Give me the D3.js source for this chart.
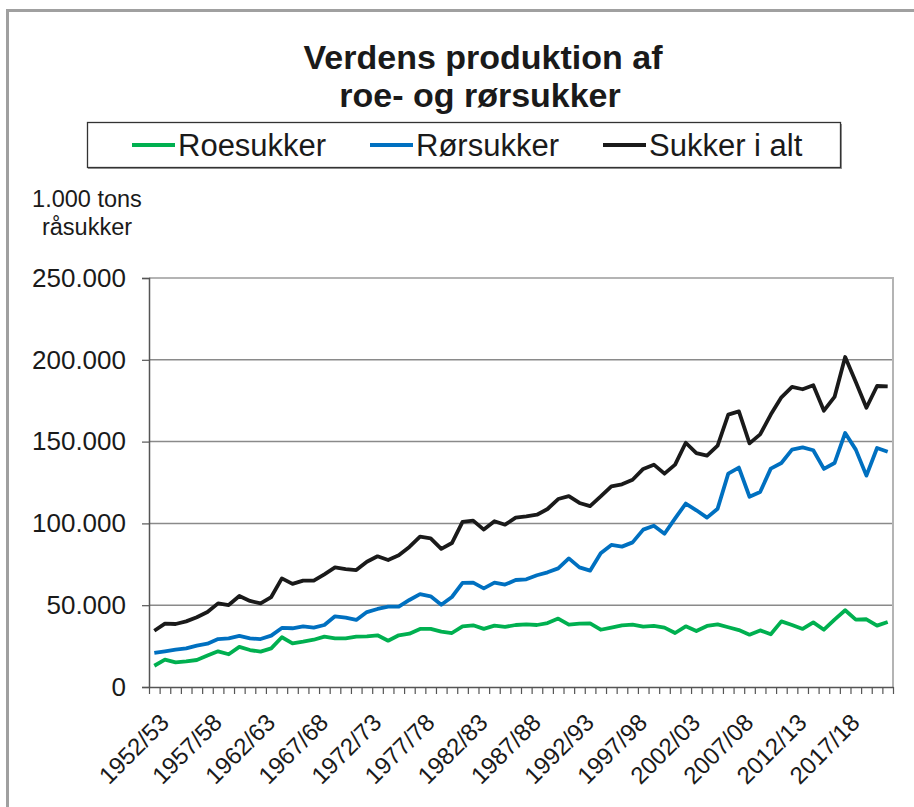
<!DOCTYPE html>
<html>
<head>
<meta charset="utf-8">
<script src="https://cdn.jsdelivr.net/npm/d3@7"></script>
<style>
  body { margin: 0; background: #fff; }
  svg { display: block; font-family: 'Liberation Sans', Arial, sans-serif; }
</style>
</head>
<body>
<div id="graf"></div>
<script>
// I. Data
aar = ['1952/53','1953/54','1954/55','1955/56','1956/57','1957/58','1958/59','1959/60','1960/61','1961/62',
       '1962/63','1963/64','1964/65','1965/66','1966/67','1967/68','1968/69','1969/70','1970/71','1971/72',
       '1972/73','1973/74','1974/75','1975/76','1976/77','1977/78','1978/79','1979/80','1980/81','1981/82',
       '1982/83','1983/84','1984/85','1985/86','1986/87','1987/88','1988/89','1989/90','1990/91','1991/92',
       '1992/93','1993/94','1994/95','1995/96','1996/97','1997/98','1998/99','1999/00','2000/01','2001/02',
       '2002/03','2003/04','2004/05','2005/06','2006/07','2007/08','2008/09','2009/10','2010/11','2011/12',
       '2012/13','2013/14','2014/15','2015/16','2016/17','2017/18','2018/19','2019/20','2020/21','2021/22']

roesukker = [13000,16700,15100,15700,16500,19200,21800,20000,24500,22600,
             21600,23600,30400,26700,27700,28900,30800,29700,29700,30800,
             31000,31600,28300,31600,32600,35500,35500,33800,33000,37100,
             37700,35500,37500,36700,37900,38300,37900,39100,41800,38100,
             38700,38900,35000,36300,37700,38100,36900,37300,36300,33000,
             37100,34200,37300,38300,36500,34800,32000,34600,32200,40100,
             37900,35500,39500,35000,41200,46900,41200,41400,37500,39700]

roersukker = [20800,21800,22800,23600,25300,26500,29300,29700,31200,29700,
              29300,31400,36100,35900,37100,36300,37900,43200,42400,41000,
              45800,47700,49100,49100,53200,56800,55400,50300,55000,63600,
              63800,60300,63800,62600,65400,65800,68300,70100,72500,78600,
              73100,71100,81700,86800,85800,88400,96200,98600,93700,103100,
              112100,108000,103500,109000,130400,134100,116300,119200,133500,136900,
              145100,146500,144700,133300,136900,155300,145100,129200,146100,143800]

sukkerIAlt = [34400,38700,38500,40100,42600,45800,51100,50100,55600,52600,
              51100,55000,66400,63000,65000,65000,68900,73100,72100,71500,
              76600,79900,77600,80500,85600,91900,90900,84400,88000,100900,
              101700,96200,101300,99200,103500,104300,105300,108800,114900,116700,
              112500,110600,116500,122700,123900,126700,133300,135900,130400,135900,
              149300,143000,141400,147500,166500,168500,148900,154400,166500,177100,
              183400,182000,184400,168900,177300,201700,186400,170700,184000,183800]

serier = [
  { navn: 'Roesukker',    farve: '#00b050', vaerdier: roesukker },
  { navn: 'Rørsukker',    farve: '#0070c0', vaerdier: roersukker },
  { navn: 'Sukker i alt', farve: '#1a1a1a', vaerdier: sukkerIAlt }
]

yTicks = [0, 50000, 100000, 150000, 200000, 250000]

// II. Opsætning
W = 914
H = 807
plot = { left: 149, right: 893, top: 278, bottom: 687 }

svg = d3.select('#graf').append('svg')
        .attr('width', W)
        .attr('height', H)

// ramme om hele figuren
svg.append('path')
   .attr('d', `M7.5,${H} V10.5 H${W}`)
   .attr('fill', 'none')
   .attr('stroke', '#a0a0a0')
   .attr('stroke-width', 3)

// titel
titel = svg.append('text')
           .attr('text-anchor', 'middle')
           .attr('font-weight', 'bold')
           .attr('font-size', '34px')
           .attr('fill', '#1a1a1a')
titel.append('tspan').attr('x', 483).attr('y', 69).text('Verdens produktion af')
titel.append('tspan').attr('x', 480).attr('y', 107).text('roe- og rørsukker')

// legende
svg.append('rect')
   .attr('x', 88).attr('y', 124)
   .attr('width', 754).attr('height', 45)
   .attr('fill', '#9a9a9a')
svg.append('rect')
   .attr('x', 87.5).attr('y', 122.5)
   .attr('width', 753).attr('height', 45)
   .attr('fill', '#fff')
   .attr('stroke', '#333')
   .attr('stroke-width', 1.3)

legX = [132, 370, 603]
leg = svg.selectAll('.leg')
         .data(serier)
         .enter()
         .append('g')
         .attr('class', 'leg')
         .attr('transform', (d, i) => `translate(${legX[i]}, 145)`)
leg.append('line')
   .attr('x1', 0).attr('x2', 43)
   .attr('stroke', d => d.farve)
   .attr('stroke-width', 4)
leg.append('text')
   .attr('x', 46)
   .attr('y', 11)
   .attr('font-size', '31px')
   .attr('fill', '#1a1a1a')
   .text(d => d.navn)

// enhed
enhed = svg.append('text')
           .attr('text-anchor', 'middle')
           .attr('font-size', '23.5px')
           .attr('fill', '#1a1a1a')
enhed.append('tspan').attr('x', 87).attr('y', 207).text('1.000 tons')
enhed.append('tspan').attr('x', 87).attr('y', 235).text('råsukker')

// III. Skalaer
x = d3.scaleBand()
      .domain(aar)
      .range([plot.left, plot.right])
      .padding(0)

xi = d3.scaleLinear()
       .domain([0, aar.length])
       .range([plot.left, plot.right])

y = d3.scaleLinear()
      .domain([0, 250000])
      .range([plot.bottom, plot.top])

dk = d3.formatLocale({ decimal: ',', thousands: '.', grouping: [3], currency: ['', ''] })

// gitterlinjer
svg.append('g')
   .selectAll('line')
   .data(yTicks.filter(d => d > 0 && d < 250000))
   .enter()
   .append('line')
     .attr('x1', plot.left).attr('x2', plot.right)
     .attr('y1', d => y(d)).attr('y2', d => y(d))
     .attr('stroke', '#8a8a8a')
     .attr('stroke-width', 1.5)

// plotramme top og højre
svg.append('path')
   .attr('d', `M${plot.left},${y(250000)} H${plot.right} V${plot.bottom}`)
   .attr('fill', 'none')
   .attr('stroke', '#b4b4b4')
   .attr('stroke-width', 2)

// akser
yAxis = svg.append('g')
           .attr('transform', `translate(${plot.left}, 0)`)
           .call(d3.axisLeft(y)
                   .tickValues(yTicks)
                   .tickSize(7)
                   .tickPadding(16)
                   .tickFormat(d => dk.format(',')(d)))
yAxis.select('.domain').attr('stroke', '#555').attr('stroke-width', 1.5)
yAxis.selectAll('.tick line').attr('stroke', '#555').attr('stroke-width', 1.2)
yAxis.selectAll('.tick text')
     .attr('font-size', '26px')
     .attr('font-family', "'Liberation Sans', Arial, sans-serif")
     .attr('fill', '#1a1a1a')

xAxis = svg.append('g')
           .attr('transform', `translate(0, ${plot.bottom})`)
           .call(d3.axisBottom(xi)
                   .tickValues(d3.range(aar.length + 1))
                   .tickSize(7)
                   .tickSizeOuter(0)
                   .tickFormat(''))
xAxis.select('.domain').attr('stroke', '#555').attr('stroke-width', 1.5)
xAxis.selectAll('.tick line').attr('stroke', '#555').attr('stroke-width', 1.2)

svg.append('g')
   .selectAll('text')
   .data(aar.filter((d, i) => i % 5 === 0))
   .enter()
   .append('text')
     .attr('transform', d => `translate(${x(d) + x.bandwidth() / 2 + 4}, ${plot.bottom + 25}) rotate(-45)`)
     .attr('text-anchor', 'end')
     .attr('dy', '0.71em')
     .attr('font-size', '24px')
     .attr('fill', '#1a1a1a')
     .text(d => d)

// IV. Linjer
linje = d3.line()
          .x((d, i) => x(aar[i]) + x.bandwidth() / 2)
          .y(d => y(d))

svg.append('g')
   .selectAll('path')
   .data(serier)
   .enter()
   .append('path')
     .attr('d', d => linje(d.vaerdier))
     .attr('fill', 'none')
     .attr('stroke', d => d.farve)
     .attr('stroke-width', 3.8)
     .attr('stroke-linejoin', 'round')
</script>
</body>
</html>
